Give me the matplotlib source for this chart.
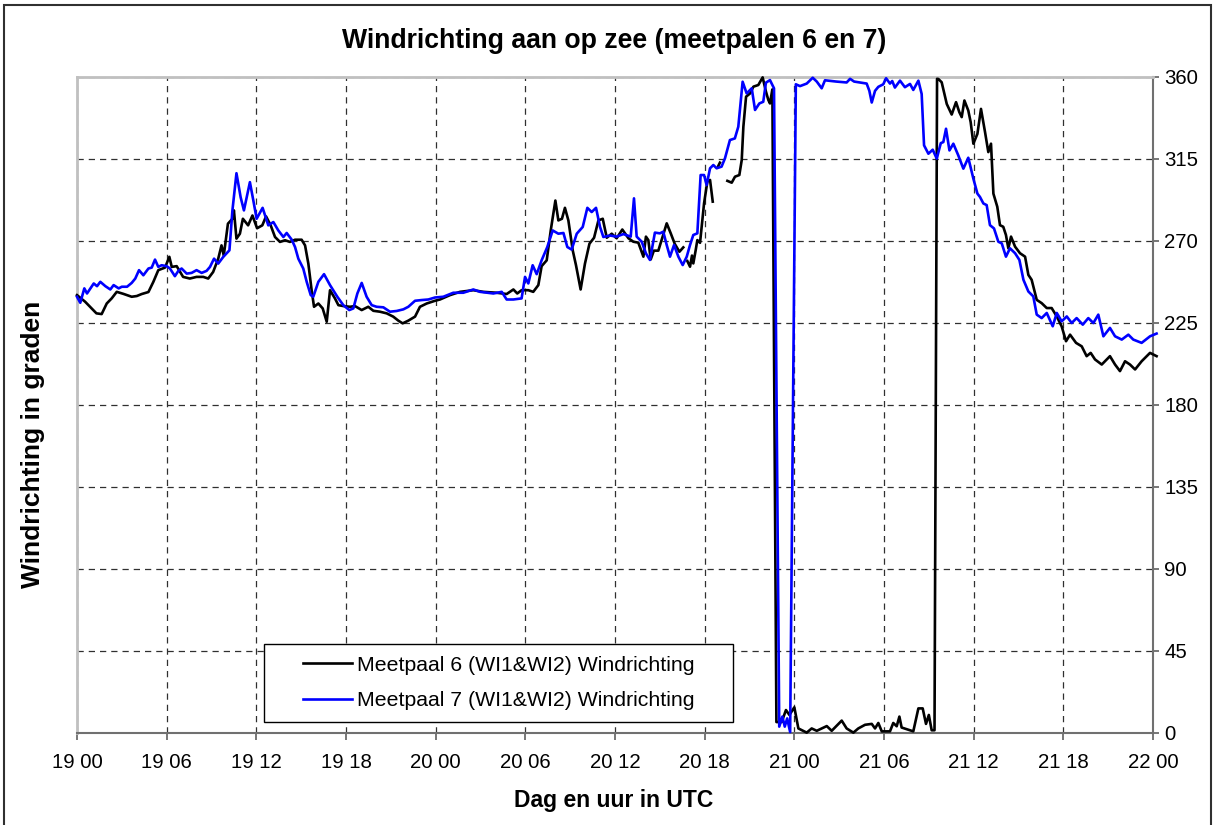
import numpy as np
import matplotlib
matplotlib.use("Agg")
import matplotlib.pyplot as plt
from matplotlib.patches import Rectangle

nan = np.nan

# hours since 19 00 UTC and wind direction (degrees)
hours_6 = [0, 0.54, 0.87, 1.3, 1.65, 1.99, 2.32, 2.66, 3.1, 3.66, 4.0, 4.33, 4.78, 5.11, 5.44, 5.89,
           6.18, 6.34, 6.67, 7.1, 7.55, 8.0, 8.45, 8.78, 9.11, 9.45, 9.67, 9.82, 10.1, 10.4, 10.5,
           10.67, 10.9, 11.1, 11.45, 11.74, 12.05, 12.4, 12.65, 12.96, 13.25, 13.58, 13.92, 14.25,
           14.59, 15.03, 15.26, 15.48, 15.7, 15.86, 16.15, 16.44, 16.71, 16.93, 17.26, 17.49, 17.82,
           18.27, 18.6, 19.05, 19.49, 19.83, 20.27, 20.72, 21.16, 21.5, 21.79, 22.17, 22.62, 22.95,
           23.4, 23.96, 24.29, 24.96, 25.63, 26.52, 27.19, 28.08, 28.75, 29.2, 29.46, 29.75, 30.2,
           30.53, 30.87, 31.09, 31.43, 31.7, 32.01, 32.21, 32.45, 32.65, 32.88, 33.17, 33.39, 33.7,
           33.99, 34.29, 34.6, 34.89, 35.18, 35.45, 35.78, 36.11, 36.49, 36.9, 37.23, 37.56, 37.9,
           38.07, 38.23, 38.39, 38.6, 38.9, 39.19, 39.46, 39.73, 40.0, 40.31, 40.57, 40.7,
           40.84, 41.02, 41.15, 41.24, 41.4, 41.51, 41.69, 41.96, 42.18, 42.36, 42.54, 42.7,
           42.9, 43.02, 43.3,
           43.52, 43.81, 44.03, 44.32, 44.48, 44.59, 44.77, 45.04, 45.26, 45.59, 45.88, 46.1, 46.26,
           46.37, 46.53, 46.8, 47.15, 47.44, 47.67, 48.0, 48.27, 48.83, 49.16, 49.5, 50.17, 50.5,
           51.17, 51.5, 51.95, 52.28, 52.73, 53.18, 53.4, 53.62, 53.85, 54.4, 54.62, 54.85, 55.03,
           55.18, 55.96, 56.3, 56.59, 56.81, 57.0, 57.19, 57.38, 57.55, 57.64, 57.86, 58.2, 58.53,
           58.82, 59.04, 59.2, 59.38, 59.64, 59.8, 59.98, 60.25, 60.49, 60.76, 60.98, 61.16, 61.32,
           61.58, 61.76, 61.98, 62.16, 62.32, 62.5, 62.77, 63.1, 63.44, 63.66, 63.88, 64.22, 64.55,
           64.89, 65.22, 65.56, 65.89, 66.18, 66.45, 66.85, 67.23, 67.56, 67.83, 68.12, 68.57,
           69.12, 69.46, 69.79, 70.13, 70.46, 70.8, 71.24, 71.8, 72.24]
meetpaal_6 = [240.3, 236.7, 233.9, 230.3, 229.9, 235.7, 238.5, 242.1, 241.0, 239.4, 239.8, 240.9,
              242.0, 247.6, 254.0, 255.4, 261.3, 255.8, 256.2, 250.3, 249.4, 250.3, 250.3, 249.4,
              253.0, 260.3, 267.6, 262.0, 279.5, 282.2, 286.8, 271.3, 274.0, 282.2, 278.6, 284.0,
              277.0, 278.6, 283.5, 278.6, 272.2, 269.5, 270.4, 269.5, 270.7, 270.7, 267.6, 257.6,
              243.0, 233.9, 235.7, 233.0, 225.7, 243.0, 238.5, 234.8, 234.3, 233.9, 234.3, 232.1,
              233.9, 231.7, 231.2, 230.3, 228.5, 226.3, 224.8, 226.3, 228.5, 233.9, 235.7, 237.2,
              237.9, 240.3, 242.1, 243.0, 242.1, 241.6, 240.9, 243.4, 241.2, 243.0, 243.0, 242.1,
              245.8, 256.2, 259.4, 275.8, 292.2, 281.3, 282.2, 288.2, 281.3, 264.9, 256.7, 243.4,
              257.6, 268.5, 271.8, 281.3, 282.2, 271.8, 274.0, 271.5, 276.3, 271.5, 269.6, 269.1,
              261.4, 272.4, 270.5, 259.9, 264.7, 264.7, 272.4, 279.7, 274.2, 268.4, 264.1, 266.5, nan,
              259.0, 255.9, 262.0, 257.7, 265.0, 270.5, 269.0, 290.7, 302.6, 303.5, 291.6, nan,
              311.0, 313.0, nan,
              303.0, 302.0, 305.3, 306.2, 314.4, 332.7, 349.2, 351.0, 354.7, 355.6, 359.8, 352.0,
              347.4, 345.5, 353.2, 6.0, 6.0, 12.6, 9.9, 14.1, 2.5, 0.2, 2.5, 1.2, 3.8, 1.2, 6.8, 2.5,
              0.2, 2.5, 4.5, 5.0, 2.5, 5.5, 0.9, 0.9, 5.5, 3.7, 9.0, 3.0, 0.9, 13.5, 13.5, 5.0, 9.9,
              1.5, 1.5, 359.0, 358.9, 357.1, 345.2, 339.4, 346.2, 340.7, 338.0, 347.1, 341.6, 335.2,
              323.4, 328.8, 342.5, 329.8, 318.8, 323.4, 296.0, 288.8, 278.7, 277.8, 273.3, 266.0,
              272.4, 266.9, 263.3, 261.4, 251.4, 248.7, 237.7, 235.9, 233.2, 233.2, 228.6, 223.1,
              215.0, 218.6, 214.1, 212.2, 206.8, 208.6, 205.0, 202.2, 206.8, 202.2, 198.6, 204.0,
              202.2, 199.5, 204.0, 208.6, 206.8]

hours_7 = [0, 0.22, 0.49, 0.67, 1.12, 1.34, 1.56, 1.9, 2.23, 2.45, 2.79, 3.0, 3.35, 3.66, 3.9, 4.15,
           4.44, 4.78, 5.0, 5.22, 5.44, 5.66, 6.0, 6.22, 6.55, 6.78, 7.0, 7.34, 7.67, 8.0, 8.34,
           8.67, 8.9, 9.17, 9.45, 9.79, 10.2, 10.4, 10.67, 10.95, 11.17, 11.57, 11.8, 12.02, 12.42,
           12.8, 13.14, 13.47, 13.81, 14.03, 14.37, 14.59, 14.81, 15.14, 15.37, 15.64, 15.81, 16.15,
           16.53, 16.93, 17.42, 17.82, 18.22, 18.49, 18.76, 19.05, 19.38, 19.72, 20.05, 20.5, 20.94,
           21.39, 21.84, 22.17, 22.62, 23.07, 23.51, 23.96, 24.51, 25.18, 25.85, 26.52, 26.97,
           27.86, 28.42, 28.75, 29.2, 29.75, 29.98, 30.2, 30.49, 30.76, 31.09, 31.47, 31.83, 32.21,
           32.55, 32.81, 33.1, 33.44, 33.84, 34.15, 34.44, 34.73, 35.0, 35.22, 35.67, 36.11, 36.56,
           37.05, 37.27, 37.45, 37.79, 38.07, 38.34, 38.67, 39.0, 39.23, 39.46, 39.68, 39.95, 40.24,
           40.53, 40.8, 41.02, 41.24, 41.51, 41.73, 41.96, 42.13, 42.36, 42.58, 42.8, 43.13, 43.36,
           43.69, 44.02, 44.25, 44.54, 44.81, 45.15, 45.37, 45.66, 45.92, 46.1, 46.37, 46.64,
           46.99, 47.2, 47.36, 47.52, 47.72, 48.1, 48.38, 48.83, 49.23, 49.5, 49.83, 50.05, 50.8,
           51.5, 51.73, 52.0, 52.84, 53.02, 53.18, 53.4, 53.62, 53.95, 54.14, 54.4, 54.55, 54.73,
           55.07, 55.4, 55.74, 55.96, 56.3, 56.52, 56.68, 56.97, 57.26, 57.53, 57.8, 57.97, 58.15,
           58.38, 58.64, 58.97, 59.31, 59.64, 59.98, 60.25, 60.42, 60.65, 60.87, 61.09, 61.36,
           61.65, 61.88, 62.16, 62.43, 62.77, 63.06, 63.33, 63.66, 63.99, 64.22, 64.55, 64.89,
           65.29, 65.56, 65.89, 66.23, 66.56, 66.89, 67.3, 67.67, 68.01, 68.34, 68.68, 69.12,
           69.46, 69.91, 70.35, 70.68, 71.24, 71.8, 72.24]
meetpaal_7 = [239.4, 236.1, 244.0, 241.2, 246.7, 245.2, 247.6, 245.2, 243.4, 245.8, 244.0, 244.9,
              244.9, 247.0, 249.4, 254.0, 251.2, 254.9, 255.4, 259.8, 255.8, 256.7, 256.2, 254.9,
              250.7, 253.6, 254.9, 252.1, 252.5, 254.0, 252.5, 253.6, 255.8, 260.3, 257.6, 261.3,
              264.9, 286.8, 307.2, 294.0, 286.8, 302.3, 292.2, 282.2, 288.2, 278.6, 280.4, 275.8,
              272.2, 274.4, 270.7, 266.7, 260.3, 254.9, 247.6, 240.3, 239.4, 247.6, 251.8, 245.8,
              239.4, 234.8, 232.1, 233.0, 241.2, 247.0, 239.4, 234.8, 233.9, 233.6, 231.2, 231.6,
              232.5, 233.9, 237.2, 237.6, 237.9, 239.0, 239.4, 241.6, 241.6, 243.4, 242.1, 241.2,
              242.1, 237.9, 237.9, 238.5, 250.3, 246.7, 256.7, 251.8, 259.4, 266.7, 275.8, 274.0,
              274.4, 266.7, 265.3, 274.0, 277.7, 288.2, 285.9, 288.2, 277.7, 272.2, 273.0, 272.4,
              273.8, 272.4, 293.4, 272.4, 269.6, 263.2, 259.6, 274.6, 274.2, 275.1, 267.8, 261.4,
              267.8, 261.4, 256.8, 261.4, 267.8, 273.3, 274.2, 306.2, 306.2, 300.7, 309.9, 311.7,
              309.9, 310.8, 315.4, 325.4, 326.3, 332.7, 357.4, 351.0, 353.8, 341.9, 345.5, 346.4,
              356.9, 358.3, 353.8, 3.5, 9.0, 3.5, 8.0, 0.5, 356.0, 355.0, 356.4, 359.6, 357.5, 353.8,
              358.2, 357.5, 357.0, 359.0, 357.5, 356.4, 352.4, 346.0, 352.4, 354.6, 356.0, 359.3,
              356.4, 357.8, 354.2, 358.0, 354.4, 356.2, 352.9, 358.0, 350.7, 322.5, 317.9, 320.1,
              315.2, 323.7, 324.3, 331.6, 319.7, 323.4, 317.0, 309.7, 315.7, 304.2, 296.0, 294.2,
              290.6, 289.7, 278.7, 276.9, 269.6, 268.7, 261.4, 266.0, 263.3, 259.6, 248.7, 242.3,
              239.6, 229.6, 227.7, 230.5, 223.2, 230.5, 225.9, 228.6, 225.0, 227.7, 224.1, 227.7,
              225.0, 229.6, 217.7, 222.3, 217.7, 215.9, 218.6, 215.9, 214.1, 217.7, 219.2]

x_ticks = list(range(0, 73, 6))
x_labels = ["19 00", "19 06", "19 12", "19 18", "20 00", "20 06", "20 12", "20 18",
            "21 00", "21 06", "21 12", "21 18", "22 00"]
y_ticks = list(range(0, 361, 45))

W, H = 1216, 825
fig = plt.figure(figsize=(W / 100, H / 100), dpi=100)
plt.rcParams['font.family'] = ['Liberation Sans', 'DejaVu Sans']

ax = fig.add_axes([77 / W, 1 - 733 / H, (1153 - 77) / W, (733 - 77) / H])

ax.plot(hours_6, meetpaal_6, color='black', lw=1.9, label='Meetpaal 6 (WI1&WI2) Windrichting',
        clip_on=False, zorder=3)
ax.plot(hours_7, meetpaal_7, color='#0000FF', lw=1.9, label='Meetpaal 7 (WI1&WI2) Windrichting',
        clip_on=False, zorder=4)

ax.set_xlim(0, 72)
ax.set_ylim(0, 360)
ax.set_xticks(x_ticks)
ax.set_xticklabels(x_labels, fontsize=14.7)
ax.set_yticks(y_ticks)
ax.yaxis.tick_right()
ax.tick_params(axis='y', labelsize=14.7, direction='out', length=4, width=1.2,
               color='#606060', pad=4)
ax.tick_params(axis='x', direction='out', length=5, width=1.2, color='#606060', pad=9.5)

ax.grid(True, color='#303030', linestyle=(0, (5, 4)), linewidth=0.9)
ax.set_axisbelow(True)

for side in ('left', 'top'):
    ax.spines[side].set_color('#c0c0c0')
    ax.spines[side].set_linewidth(2.0)
for side in ('right', 'bottom'):
    ax.spines[side].set_color('#707070')
    ax.spines[side].set_linewidth(1.5)

# legend box drawn as a patch at the reference position, legend itself without frame
box = Rectangle(((264 - 77) / 1076, (733 - 722) / 656), (733 - 264) / 1076, (722 - 644) / 656,
                transform=ax.transAxes, facecolor='white', edgecolor='black', linewidth=1.0,
                zorder=5)
ax.add_patch(box)
leg = ax.legend(loc='center', bbox_to_anchor=((498.5 - 77) / 1076, (733 - 683) / 656),
                fontsize=15.3, frameon=False,
                handlelength=2.3, handletextpad=0.25, labelspacing=0.78,
                borderpad=0.3, borderaxespad=0)
leg.set_zorder(6)

fig.text(614 / W, 1 - 41 / H, 'Windrichting aan op zee (meetpalen 6 en 7)', ha='center',
         va='center', fontsize=19.2, fontweight='bold')
fig.text(614 / W, 1 - 801 / H, 'Dag en uur in UTC', ha='center', va='center',
         fontsize=16.5, fontweight='bold')
fig.text(33 / W, 1 - 444 / H, 'Windrichting in graden', ha='center', va='center',
         rotation=90, fontsize=19, fontweight='bold')

fig.patches.append(Rectangle((4 / W, -0.05), (1211 - 4) / W, 1.05 - 5 / H,
                             transform=fig.transFigure, fill=False, edgecolor='#303030',
                             linewidth=1.5))

fig.savefig('out.png', dpi=100)
